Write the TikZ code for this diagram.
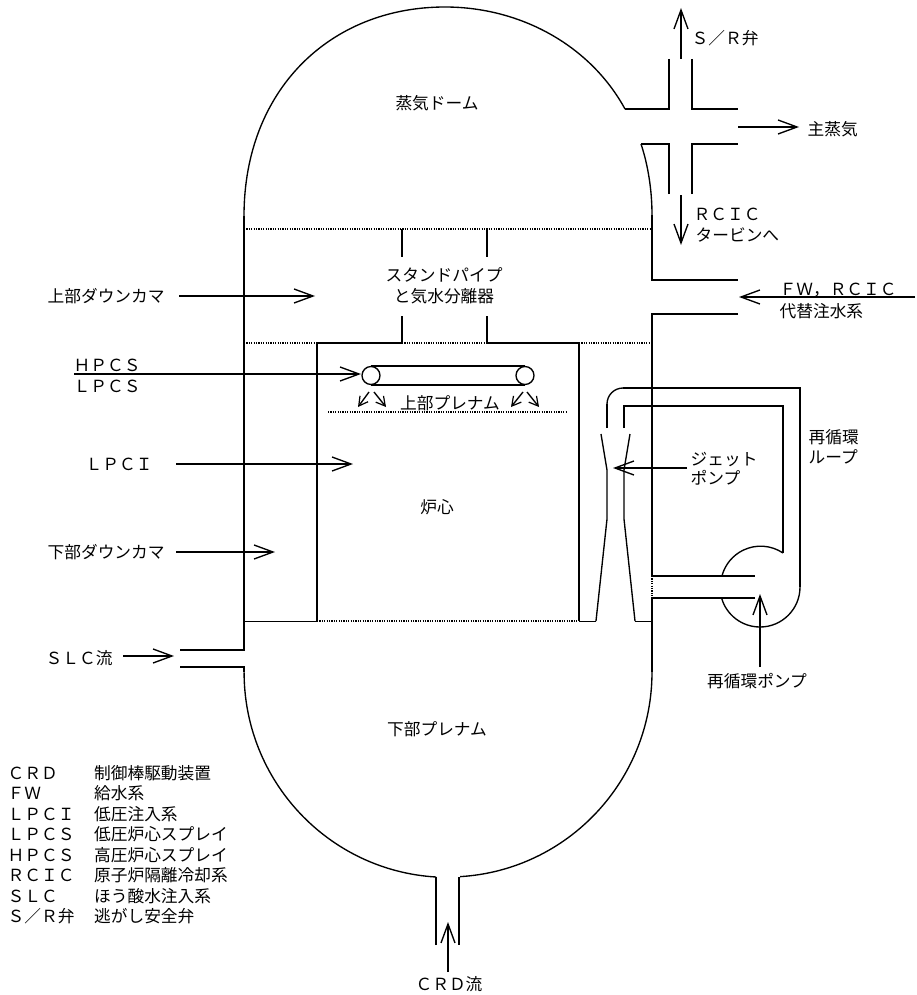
\documentclass[tikz,border=0pt]{standalone}
\usepackage{fontspec}
\setmainfont{Noto Sans CJK JP}
\usetikzlibrary{arrows.meta}
\begin{document}
\begin{tikzpicture}[x=1pt,y=-1pt,line width=1.35pt,
				>={Straight Barb[length=19pt,width=14pt,line width=1.35pt]},
				flow/.style = {->,shorten >=0pt},
				small flow/.style = {->,>={Straight Barb[length=9pt,width=10pt,line width=1.2pt]}},
				dot line/.style = {line width=1.1pt,dash pattern=on 1.2pt off 1.2pt},
				thin line/.style = {line width=1pt},
				label/.style = {inner sep=0pt,font=\fontsize{16.7}{20}\selectfont},
				left label/.style = {label,anchor=west}]
				
				\useasboundingbox (0,0) rectangle (917,995);
				
				\draw (669,59) -- (669,109) -- (625,109);
				\draw (625,109) .. controls (590,45) and (520,7) .. (445,7) .. controls (330,7) and (244,90) .. (244,216);
				\draw (244,216) -- (244,650) -- (180,650);
				\draw (692,59) -- (692,109) -- (738,109);
				\draw (669,194) -- (669,144) -- (641,144);
				\draw (641,144) .. controls (648,165) and (652,190) .. (652,215);
				\draw (652,215) -- (652,280) -- (738,280);
				\draw (692,194) -- (692,144) -- (738,144);
				\draw (738,314) -- (652,314) -- (652,576) -- (755,576);
				\draw (755,598) -- (652,598) -- (652,672);
				\draw (652,672) arc (0:86.6:204 and 205);
				\draw (459,877) -- (459,945);
				\draw (436,945) -- (436,877);
				\draw (436,877) arc (93.4:180:204 and 205);
				\draw (244,672) -- (244,667) -- (180,667);
				
				\draw (317,621) -- (317,343) -- (402,343) -- (402,316);
				\draw (579,621) -- (579,343) -- (487,343) -- (487,316);
				\draw (402,229) -- (402,257);
				\draw (487,229) -- (487,257);
				\draw[thin line] (244,621) -- (317,621);
				\draw[thin line] (579,621) -- (596,621);
				\draw[thin line] (635,621) -- (652,621);
				
				\draw[dot line] (244,229) -- (652,229);
				\draw[dot line] (244,343) -- (317,343);
				\draw[dot line] (402,343) -- (487,343);
				\draw[dot line] (579,343) -- (652,343);
				\draw[dot line] (328,412) -- (567,412);
				\draw[dot line] (317,621) -- (579,621);
				\draw[dot line] (652,576) -- (652,598);
				
				\draw (371,366) -- (525,366);
				\draw (371,385) -- (525,385);
				\draw[fill=white] (371,375.5) circle (9);
				\draw[fill=white] (525,375.5) circle (9);
				
				\draw (607,428) -- (607,404);
				\draw (607,404) arc (180:270:16);
				\draw (623,388) -- (800,388) -- (800,587);
				\draw (800,587) arc (0:164:40);
				\draw (624,428) -- (624,406) -- (783,406) -- (783,553);
				\draw (783,553) arc (304:196:40);
				\draw (601,434) -- (607,470) -- (607,519) -- (596,621);
				\draw (630,434) -- (624,470) -- (624,519) -- (635,621);
				
				\draw[flow] (681,59) -- (681,8);
				\draw[flow] (738,127) -- (799,127);
				\draw[flow] (681,195) -- (681,245);
				\draw[flow] (915,297) -- (739,297);
				\draw[flow] (179,296) -- (315,296);
				\draw[flow] (74,374) -- (361,374);
				\draw[flow] (176,464) -- (353,464);
				\draw[flow] (176,552) -- (275,552);
				\draw[flow] (123,656) -- (174,656);
				\draw[flow] (687,468) -- (613,468);
				\draw[flow] (760,667) -- (760,594);
				\draw[flow] (448,972) -- (448,922);
				
				\draw[small flow] (369,392) -- (358,407);
				\draw[small flow] (374,392) -- (386,407);
				\draw[small flow] (523,392) -- (511,407);
				\draw[small flow] (527,392) -- (539,407);
				
				\node[label] (dome) at (437,103) {蒸気ドーム};
				\node[left label] (srv) at (691,38) {Ｓ／Ｒ弁};
				\node[left label] (steam) at (807,129) {主蒸気};
				\node[left label] (rcic) at (693,214) {ＲＣＩＣ};
				\node[left label] (turbine) at (695,235) {タービンへ};
				\node[left label] (fw) at (779,290) {ＦＷ，ＲＣＩＣ};
				\node[left label] (alt) at (779,311) {代替注水系};
				\node[label] (sp) at (444,275) {スタンドパイプ};
				\node[label] (sep) at (444,296) {と気水分離器};
				\node[left label] (udc) at (47,296) {上部ダウンカマ};
				\node[left label] (hpcs) at (73,365) {ＨＰＣＳ};
				\node[left label] (lpcs) at (73,386) {ＬＰＣＳ};
				\node[label] (upl) at (450,403) {上部プレナム};
				\node[left label] (lpci) at (85,464) {ＬＰＣＩ};
				\node[label] (core) at (437,507) {炉心};
				\node[left label] (ldc) at (47,552) {下部ダウンカマ};
				\node[left label] (slc) at (45,658) {ＳＬＣ流};
				\node[label] (lpl) at (437,729) {下部プレナム};
				\node[label] (crd) at (449,984) {ＣＲＤ流};
				\node[left label] (jet) at (690,459) {ジェット};
				\node[left label] (jetp) at (690,478) {ポンプ};
				\node[left label] (loop) at (808,437) {再循環};
				\node[left label] (loopb) at (808,457) {ループ};
				\node[label] (pump) at (757,681) {再循環ポンプ};
				
				\foreach \n/\a/\b [count=\i from 0] in {crd/ＣＲＤ/制御棒駆動装置,fw/ＦＷ/給水系,lpci/ＬＰＣＩ/低圧注入系,lpcs/ＬＰＣＳ/低圧炉心スプレイ,hpcs/ＨＰＣＳ/高圧炉心スプレイ,rcic/ＲＣＩＣ/原子炉隔離冷却系,slc/ＳＬＣ/ほう酸水注入系,srv/Ｓ／Ｒ弁/逃がし安全弁}{
					\node[left label] (key\n) at (7,773+20.5*\i) {\a};
					\node[left label] (val\n) at (93.5,773+20.5*\i) {\b};
				}
				
				\end{tikzpicture}
\end{document}
